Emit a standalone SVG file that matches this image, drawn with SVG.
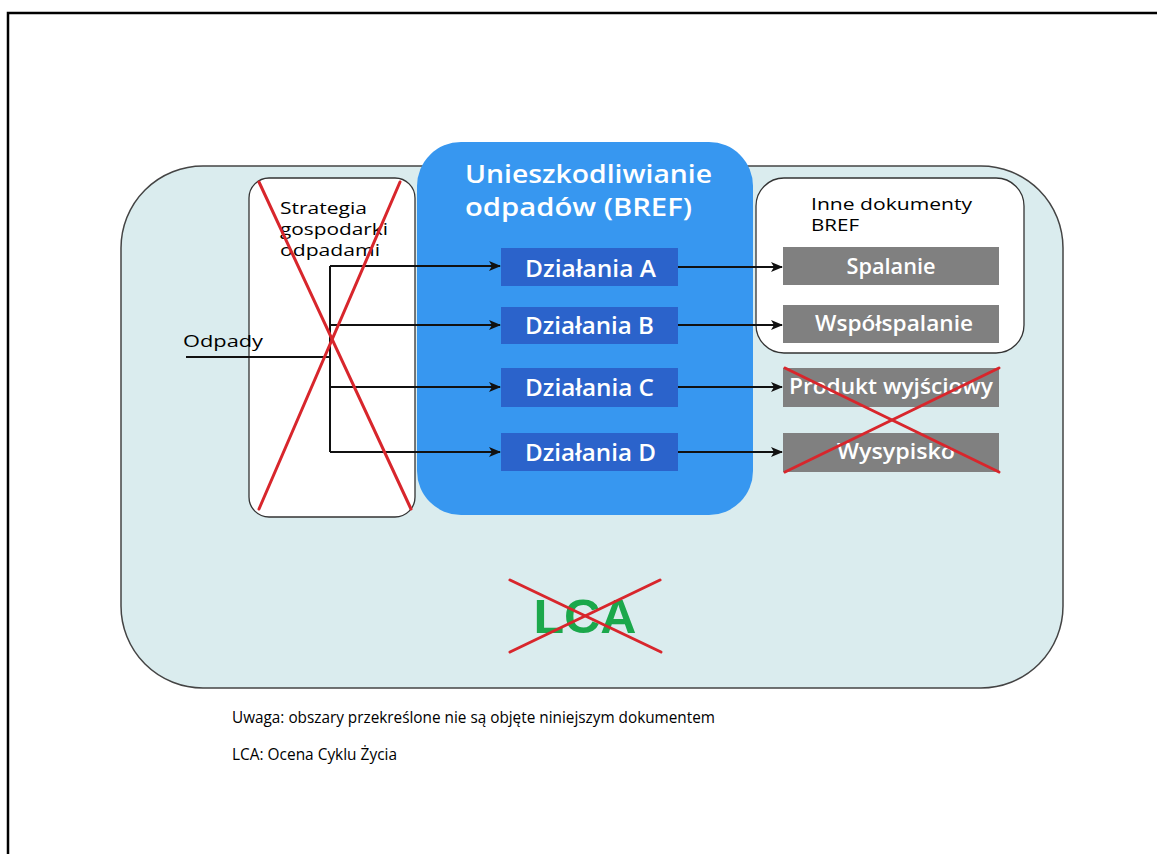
<svg xmlns="http://www.w3.org/2000/svg" width="1157" height="854" viewBox="0 0 1157 854">
  <defs>
    <marker id="arrow" viewBox="0 0 12 10" refX="11" refY="5" markerWidth="12" markerHeight="10" markerUnits="userSpaceOnUse" orient="auto">
      <path d="M0,0 L12,5 L0,10 L3,5 Z" fill="#111"/>
    </marker>
  </defs>
  <style>
    .frame { fill: none; stroke: #000; stroke-width: 2.5; }
    .scope { fill: #daecee; stroke: #444; stroke-width: 1.5; }
    .panel { fill: #fff; stroke: #333; stroke-width: 1.3; }
    .bref { fill: #3797f0; }
    .act { fill: #2b63cb; }
    .out { fill: #808080; }
    .wire { fill: none; stroke: #111; stroke-width: 2; }
    .cross { stroke: #d8262c; stroke-width: 3; stroke-linecap: round; }
    .t { font-family: "Open Sans", "Liberation Sans", sans-serif; }
    .dark { fill: #000; font-size: 17px; }
    .white { fill: #fff; font-weight: 600; }
    .note { fill: #000; font-size: 17px; }
  </style>

  <!-- page frame -->
  <path class="frame" d="M8,854 V13 H1157"/>

  <!-- overall scope -->
  <g id="scope">
    <rect class="scope" x="121" y="166" width="942" height="522" rx="82" ry="82"/>
  </g>

  <!-- waste strategy (excluded) -->
  <g id="strategy">
    <rect class="panel" x="249" y="178" width="166" height="339" rx="20" ry="20"/>
    <text class="t dark" x="280" y="214" textLength="87" lengthAdjust="spacingAndGlyphs">Strategia</text>
    <text class="t dark" x="280" y="235" textLength="108" lengthAdjust="spacingAndGlyphs">gospodarki</text>
    <text class="t dark" x="280" y="256" textLength="100" lengthAdjust="spacingAndGlyphs">odpadami</text>
  </g>

  <!-- other BREF documents -->
  <g id="other-bref">
    <rect class="panel" x="756" y="178" width="268" height="175" rx="28" ry="28"/>
    <text class="t dark" x="811" y="210" textLength="161" lengthAdjust="spacingAndGlyphs">Inne dokumenty</text>
    <text class="t dark" x="811" y="231" textLength="48" lengthAdjust="spacingAndGlyphs">BREF</text>
  </g>

  <!-- waste treatment BREF -->
  <g id="wt-bref">
    <rect class="bref" x="417" y="142" width="336" height="373" rx="44" ry="44"/>
    <text class="t white" x="465" y="183" font-size="26" textLength="247" lengthAdjust="spacingAndGlyphs">Unieszkodliwianie</text>
    <text class="t white" x="465" y="216" font-size="26" textLength="227" lengthAdjust="spacingAndGlyphs">odpadów (BREF)</text>
  </g>

  <g id="act-a">
    <rect class="act" x="501" y="248" width="177" height="38"/>
    <text class="t white" x="525" y="277" font-size="24" textLength="131" lengthAdjust="spacingAndGlyphs">Działania A</text>
  </g>
  <g id="act-b">
    <rect class="act" x="501" y="307" width="177" height="37"/>
    <text class="t white" x="525" y="334" font-size="24" textLength="129" lengthAdjust="spacingAndGlyphs">Działania B</text>
  </g>
  <g id="act-c">
    <rect class="act" x="501" y="368" width="177" height="39"/>
    <text class="t white" x="525" y="396" font-size="24" textLength="129" lengthAdjust="spacingAndGlyphs">Działania C</text>
  </g>
  <g id="act-d">
    <rect class="act" x="501" y="433" width="177" height="38"/>
    <text class="t white" x="525" y="461" font-size="24" textLength="131" lengthAdjust="spacingAndGlyphs">Działania D</text>
  </g>

  <g id="out-spalanie">
    <rect class="out" x="783" y="247" width="216" height="38"/>
    <text class="t white" x="891" y="274" font-size="21" text-anchor="middle" textLength="89" lengthAdjust="spacingAndGlyphs">Spalanie</text>
  </g>
  <g id="out-wspolspalanie">
    <rect class="out" x="783" y="305" width="216" height="38"/>
    <text class="t white" x="894" y="331" font-size="21" text-anchor="middle" textLength="158" lengthAdjust="spacingAndGlyphs">Współspalanie</text>
  </g>
  <g id="out-produkt">
    <rect class="out" x="783" y="368" width="216" height="39"/>
    <text class="t white" x="891" y="394" font-size="21" text-anchor="middle" textLength="204" lengthAdjust="spacingAndGlyphs">Produkt wyjściowy</text>
  </g>
  <g id="out-wysypisko">
    <rect class="out" x="783" y="433" width="216" height="39"/>
    <text class="t white" x="896" y="459" font-size="21" text-anchor="middle" textLength="118" lengthAdjust="spacingAndGlyphs">Wysypisko</text>
  </g>

  <!-- connectors -->
  <g id="connectors">
    <path class="wire" d="M186,357 H330"/>
    <path class="wire" d="M330,266 V452"/>
    <path class="wire" d="M330,266 H500" marker-end="url(#arrow)"/>
    <path class="wire" d="M330,325 H500" marker-end="url(#arrow)"/>
    <path class="wire" d="M330,387 H500" marker-end="url(#arrow)"/>
    <path class="wire" d="M330,452 H500" marker-end="url(#arrow)"/>
    <path class="wire" d="M678,267 H782" marker-end="url(#arrow)"/>
    <path class="wire" d="M678,325 H782" marker-end="url(#arrow)"/>
    <path class="wire" d="M678,387 H782" marker-end="url(#arrow)"/>
    <path class="wire" d="M678,452 H782" marker-end="url(#arrow)"/>
  </g>
  <text class="t dark" x="183" y="347" font-size="19" textLength="80" lengthAdjust="spacingAndGlyphs">Odpady</text>

  <!-- life cycle assessment (excluded) -->
  <g id="lca">
    <text x="585" y="633" font-family="Liberation Sans, Arial, sans-serif" font-weight="bold" font-size="48" fill="#1ba84b" text-anchor="middle" textLength="103" lengthAdjust="spacingAndGlyphs">LCA</text>
  </g>

  <!-- strike-outs marking excluded areas -->
  <g id="strikes">
    <line class="cross" x1="259" y1="182" x2="411" y2="509"/>
    <line class="cross" x1="400" y1="182" x2="259" y2="509"/>
    <line class="cross" x1="785" y1="368" x2="999" y2="472"/>
    <line class="cross" x1="999" y1="368" x2="785" y2="472"/>
    <line class="cross" x1="510" y1="580" x2="661" y2="652"/>
    <line class="cross" x1="660" y1="580" x2="510" y2="652"/>
  </g>

  <!-- notes -->
  <text class="t note" x="232" y="723" textLength="483" lengthAdjust="spacingAndGlyphs">Uwaga: obszary przekreślone nie są objęte niniejszym dokumentem</text>
  <text class="t note" x="232" y="760" textLength="165" lengthAdjust="spacingAndGlyphs">LCA: Ocena Cyklu Życia</text>
</svg>
